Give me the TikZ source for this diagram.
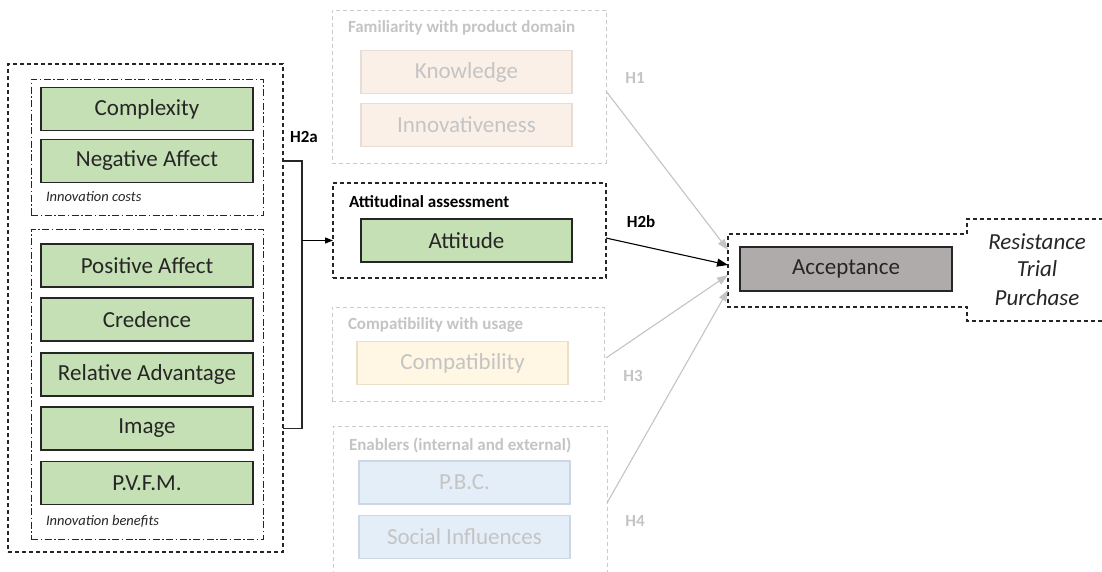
\documentclass[tikz,border=0pt]{standalone}
\usepackage{fontspec}
\setmainfont{Carlito}
\usetikzlibrary{arrows.meta}
\definecolor{grn}{HTML}{C5E0B4}
\definecolor{dk}{HTML}{262626}
\definecolor{accfill}{HTML}{AFABAB}
\definecolor{peach}{HTML}{FBF0E8}
\definecolor{peachline}{HTML}{E8DCD4}
\definecolor{cream}{HTML}{FFF6E3}
\definecolor{creamline}{HTML}{EADFC8}
\definecolor{lblue}{HTML}{E4EEF8}
\definecolor{lblueline}{HTML}{CCD7E3}
\definecolor{faint}{HTML}{C4C4C4}
\definecolor{faintline}{HTML}{CBCBCB}
\begin{document}
\begin{tikzpicture}[x=1pt,y=-1pt,
  every node/.style={inner sep=0pt,outer sep=0pt},
  boxfont/.style={font=\fontsize{23}{27}\selectfont},
  lblfont/.style={font=\fontsize{17}{20}\selectfont\bfseries},
  outerbox/.style={draw=dk,line width=1.1pt,dash pattern=on 4pt off 3pt},
  innerbox/.style={draw=dk,line width=1pt,dash pattern=on 7pt off 2.5pt on 1.5pt off 2.5pt},
  greybox/.style={draw=faintline,line width=0.9pt,dash pattern=on 4pt off 3pt},
  gbox/.style={boxfont,draw=dk,fill=grn,line width=1.4pt,minimum width=212pt,minimum height=43pt,text=dk},
  pbox/.style={boxfont,draw=peachline,fill=peach,line width=1.2pt,minimum width=211pt,minimum height=43pt,text=faint},
  cbox/.style={boxfont,draw=creamline,fill=cream,line width=1.2pt,minimum width=211pt,minimum height=43pt,text=faint},
  bbox/.style={boxfont,draw=lblueline,fill=lblue,line width=1.2pt,minimum width=211pt,minimum height=43pt,text=faint},
  smallital/.style={font=\fontsize{14.5}{17}\selectfont\itshape,text=dk},
  faintarrow/.style={draw=faint,line width=1.1pt,-{Triangle[length=11pt,width=8pt]}},
  darkarrow/.style={draw=black,line width=1.1pt,-{Triangle[length=11pt,width=8pt]}}
]
\useasboundingbox (0,0) rectangle (1102,571);
\fill[white] (0,0) rectangle (1102,571);

% ---- left block
\node[outerbox,minimum width=275pt,minimum height=488pt] (outer) at (145.5,308) {};
\node[innerbox,minimum width=232pt,minimum height=136pt] (costs) at (147,147) {};
\node[innerbox,minimum width=232pt,minimum height=310pt] (benef) at (147,384) {};
\node[gbox] (cplx) at (147,109) {Complexity};
\node[gbox] (neg) at (147,161) {Negative Affect};
\node[smallital,anchor=west] (costlbl) at (46,197) {Innovation costs};
\node[gbox] (pos) at (147,265.5) {Positive Affect};
\node[gbox] (cred) at (147,319.5) {Credence};
\node[gbox] (rel) at (147,374.5) {Relative Advantage};
\node[gbox] (img) at (147,428.5) {Image};
\node[gbox] (pvfm) at (147,483) {P.V.F.M.};
\node[smallital,anchor=west] (benlbl) at (46,521) {Innovation benefits};

% ---- middle column
\node[greybox,minimum width=274pt,minimum height=153pt] (fam) at (469,86.5) {};
\node[lblfont,text=faint,anchor=west] (famlbl) at (348,28) {Familiarity with product domain};
\node[pbox] (know) at (466.5,72) {Knowledge};
\node[pbox] (innov) at (466.5,125) {Innovativeness};

\node[outerbox,minimum width=273pt,minimum height=95pt] (attbox) at (469.5,230.5) {};
\node[lblfont,text=black,anchor=west] (attlbl) at (349,202) {Attitudinal assessment};
\node[gbox,minimum width=211pt] (att) at (466.5,240.5) {Attitude};

\node[greybox,minimum width=272pt,minimum height=94pt] (comp) at (468,354) {};
\node[lblfont,text=faint,anchor=west] (complbl) at (348,325) {Compatibility with usage};
\node[cbox] (compat) at (462.5,363) {Compatibility};

\draw[greybox] (333,575) -- (333,426) -- (607,426) -- (607,575);
\node[lblfont,text=faint,anchor=west] (enlbl) at (349,445) {Enablers (internal and external)};
\node[bbox] (pbc) at (464.5,482.5) {P.B.C.};
\node[bbox] (soc) at (464.5,537) {Social Influences};
\coordinate (enab) at (607,503);

% ---- acceptance
\node[minimum width=239pt,minimum height=73pt] (accout) at (847.5,270.5) {};
\draw[outerbox] (1103,219) -- (967,219) -- (967,234) -- (728,234) -- (728,307) -- (967,307) -- (967,321) -- (1103,321);
\node[boxfont,draw=dk,fill=accfill,line width=1.4pt,minimum width=212pt,minimum height=44pt,text=dk] (acc) at (846,269) {Acceptance};
\node[boxfont,font=\fontsize{23}{27}\selectfont\itshape,text=dk] (res) at (1037,242) {Resistance};
\node[boxfont,font=\fontsize{23}{27}\selectfont\itshape,text=dk] (trial) at (1037,269) {Trial};
\node[boxfont,font=\fontsize{23}{27}\selectfont\itshape,text=dk] (purch) at (1037,298) {Purchase};

% ---- bracket H2a
\coordinate (brk) at (302,240.5);
\draw[draw=dk,line width=1.2pt] (outer.east |- neg) -- (brk |- neg) -- (brk |- img) -- (outer.east |- img);
\draw[draw=black,line width=1.2pt,-{Triangle[length=8pt,width=6pt]}] (brk) -- (attbox.west |- brk);
\node[lblfont,text=black] (h2a) at (304,137) {H2a};

% ---- hypotheses arrows
\draw[faintarrow] ([yshift=-4.5pt]fam.east) -- ([yshift=20.5pt]accout.west);
\draw[darkarrow] ([yshift=-7.5pt]attbox.east) -- ([yshift=5.5pt]accout.west);
\draw[faintarrow] ([xshift=2pt,yshift=-4pt]comp.east) -- ([yshift=-4.5pt]accout.west);
\draw[faintarrow] (enab) -- ([yshift=-19.5pt]accout.west);

\node[lblfont,text=faint] (h1) at (635,78) {H1};
\node[lblfont,text=black] (h2b) at (641,222) {H2b};
\node[lblfont,text=faint] (h3) at (633,376) {H3};
\node[lblfont,text=faint] (h4) at (635,521) {H4};
\end{tikzpicture}
\end{document}
